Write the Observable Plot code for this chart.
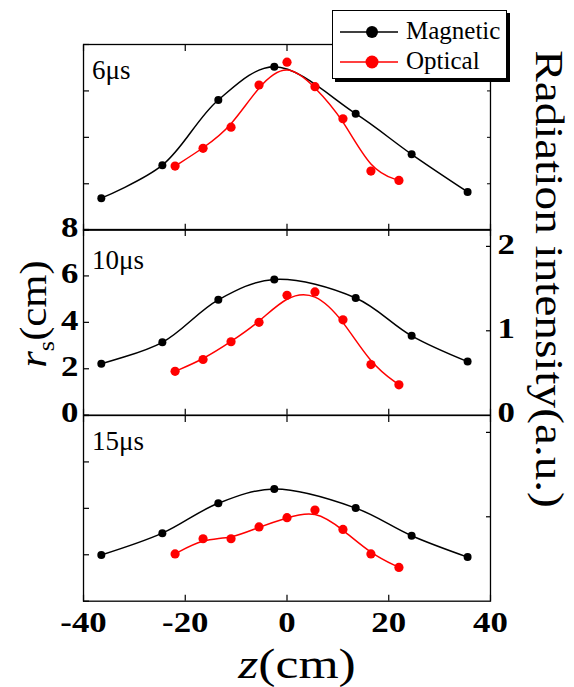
<!DOCTYPE html>
<html><head><meta charset="utf-8">
<script src="https://cdn.jsdelivr.net/npm/d3@7"></script>
<script src="https://cdn.jsdelivr.net/npm/@observablehq/plot@0.6"></script>
<style>
body{margin:0;background:#fff;}
#fig{position:relative;width:574px;height:687px;overflow:hidden;background:#fff;font-family:"Liberation Serif","Times New Roman",serif;color:#000;}
#fig svg{position:absolute;left:0;overflow:visible;}
.lab{position:absolute;white-space:nowrap;line-height:1;font-family:"Liberation Serif","Times New Roman",serif;}
</style></head><body><div id="fig"></div>
<script>
// ---- data ----
const timeLabels = ["6μs", "10μs", "15μs"];
const seriesNames = ["Magnetic", "Optical"];
const seriesColors = ["#000000", "#ff0000"];
const zMagnetic = [-36.5, -24.5, -13.5, -2.5, 13.5, 24.5, 35.5];
const zOptical = [-22, -16.5, -11, -5.5, 0, 5.5, 11, 16.5, 22];
const rs6 = [1.38, 2.80, 5.61, 7.04, 5.02, 3.27, 1.65];
const rs10 = [2.22, 3.14, 4.97, 5.85, 5.05, 3.42, 2.31];
const rs15 = [1.99, 2.93, 4.22, 4.83, 4.01, 2.82, 1.90];
const intensity6 = [0.76, 0.97, 1.22, 1.72, 1.99, 1.70, 1.32, 0.70, 0.59];
const intensity10 = [0.52, 0.66, 0.87, 1.10, 1.42, 1.46, 1.13, 0.60, 0.36];
const intensity15 = [0.56, 0.74, 0.74, 0.88, 0.99, 1.08, 0.85, 0.56, 0.40];
const zTicks = [-40, -20, 0, 20, 40];
const rsTicks = [0, 2, 4, 6, 8];
const intensityTicks = [0, 1, 2];
const zDomain = [-40, 40];
const rsDomain = [0, 8];
const intensityDomain = [0, 2.2];

const rsSeries = [rs6, rs10, rs15];
const intensitySeries = [intensity6, intensity10, intensity15];

// ---- layout ----
const fig = document.getElementById("fig");
const W = 574, ML = 83, MR = 84, PH = 185.7, M = 30;
const tops = [43.5, 229.2, 414.9];
const labelDy = [34.8, 39.1, 34.1];
const FONT = '"Liberation Serif","Times New Roman",serif';
const blank = () => "";
const plain = d => String(d);

function styleTicks(svg, k) {
  svg.querySelectorAll('g[aria-label$="tick label"] text').forEach(t => {
    const tr = t.getAttribute("transform");
    if (tr) t.setAttribute("transform", tr + ` scale(${k},1)`);
  });
}
function place(svg, top) {
  svg.style.top = (top - M) + "px";
  svg.style.width = W + "px";
  svg.style.height = (PH + 2 * M) + "px";
  svg.style.background = "transparent";
  svg.style.maxWidth = "none";
  fig.appendChild(svg);
}
const baseStyle = {fontFamily: FONT, fontSize: "29px", fontWeight: "bold", color: "black", background: "transparent", overflow: "visible"};

for (let i = 0; i < 3; i++) {
  const mag = zMagnetic.map((z, j) => ({z, rs: rsSeries[i][j]}));
  const opt = zOptical.map((z, j) => ({z, I: intensitySeries[i][j]}));

  const magMarks = [
    Plot.frame({stroke: "black", strokeWidth: 1.3}),
    Plot.axisX({ticks: zTicks, anchor: "bottom", tickSize: -6, tickFormat: blank, label: null, strokeWidth: 1.2}),
    Plot.axisX({ticks: zTicks, anchor: "top", tickSize: -6, tickFormat: blank, label: null, strokeWidth: 1.2}),
    Plot.axisY({ticks: rsTicks, anchor: "left", tickSize: -6, tickFormat: blank, label: null, strokeWidth: 1.2}),
    Plot.text([timeLabels[i]], {frameAnchor: "top-left", textAnchor: "start", lineAnchor: "bottom", dx: 8.5, dy: labelDy[i], fontSize: 27, fontWeight: "normal"}),
    Plot.line(mag, {x: "z", y: "rs", curve: "catmull-rom", stroke: seriesColors[0], strokeWidth: 1.5}),
    Plot.dot(mag, {x: "z", y: "rs", r: 4, fill: seriesColors[0], stroke: "none"})
  ];
  if (i === 0) magMarks.push(Plot.axisY({ticks: [2, 4, 6], anchor: "right", tickSize: -4, tickFormat: blank, label: null, strokeWidth: 1}));
  if (i === 1) magMarks.push(Plot.axisY({ticks: rsTicks, anchor: "left", tickSize: 0, tickPadding: 5, dy: -2, tickFormat: plain, label: null}));
  if (i === 2) magMarks.push(Plot.axisX({ticks: zTicks, anchor: "bottom", tickSize: 0, tickPadding: 10, tickFormat: plain, label: null}));

  const magSvg = Plot.plot({
    width: W, height: PH + 2 * M,
    marginLeft: ML, marginRight: MR, marginTop: M, marginBottom: M,
    x: {domain: zDomain}, y: {domain: rsDomain},
    style: baseStyle,
    marks: magMarks
  });
  styleTicks(magSvg, 1.2);
  place(magSvg, tops[i]);

  const optMarks = [
    Plot.line(opt, {x: "z", y: "I", curve: "basis", stroke: seriesColors[1], strokeWidth: 1.5}),
    Plot.dot(opt, {x: "z", y: "I", r: 4.6, fill: seriesColors[1], stroke: "none"})
  ];
  if (i > 0) optMarks.push(Plot.axisY({ticks: [1, 2], anchor: "right", tickSize: -5, tickFormat: blank, label: null, strokeWidth: 1.2}));
  if (i === 1) optMarks.push(Plot.axisY({ticks: intensityTicks, anchor: "right", tickSize: 0, tickPadding: 7, dy: -2, tickFormat: plain, label: null}));

  const optSvg = Plot.plot({
    width: W, height: PH + 2 * M,
    marginLeft: ML, marginRight: MR, marginTop: M, marginBottom: M,
    x: {domain: zDomain, axis: null},
    y: {domain: intensityDomain, axis: null},
    style: baseStyle,
    marks: optMarks
  });
  styleTicks(optSvg, 1.2);
  place(optSvg, tops[i]);
}

// ---- axis titles (scaled along the text to span the reference length) ----
function label(html, cx, cy, size, rot, length) {
  const d = document.createElement("div");
  d.className = "lab";
  d.innerHTML = html;
  d.style.left = cx + "px";
  d.style.top = cy + "px";
  d.style.fontSize = size + "px";
  fig.appendChild(d);
  const sx = length / d.offsetWidth;
  d.style.transform = `translate(-50%,-50%) rotate(${rot}deg) scale(${sx},1)`;
}
label('<i>r</i><span style="font-size:0.62em;position:relative;top:0.32em">s</span>(cm)', 33.2, 313.5, 38, -90, 108);
label('Radiation intensity(a.u.)', 548.5, 278.5, 40, 90, 458);
label('<i>z</i>(cm)', 296.5, 663.8, 42, 0, 118);

// ---- legend ----
const lx = 331.7, ly = 10, lw = 175, lh = 69;
const leg = document.createElement("div");
leg.style.cssText = `position:absolute;left:${lx}px;top:${ly}px;width:${lw}px;height:${lh}px;border:1.4px solid #000;background:#fff;box-shadow:3px 3px 0 #000;box-sizing:border-box;`;
fig.appendChild(leg);
const lsvg = d3.create("svg").attr("width", lw).attr("height", lh)
  .style("position", "absolute").style("left", "0px").style("top", "0px").style("overflow", "visible");
seriesNames.forEach((name, k) => {
  const y = 21 + k * 30;
  const g = lsvg.append("g");
  g.append("line").attr("x1", 7).attr("x2", 65).attr("y1", y).attr("y2", y).attr("stroke", seriesColors[k]).attr("stroke-width", 1.5);
  g.append("circle").attr("cx", 39).attr("cy", y).attr("r", k ? 6.5 : 6).attr("fill", seriesColors[k]);
  g.append("text").attr("x", 73).attr("y", y + 7).attr("font-family", FONT).attr("font-size", 25).text(name);
});
leg.appendChild(lsvg.node());
</script></body></html>
